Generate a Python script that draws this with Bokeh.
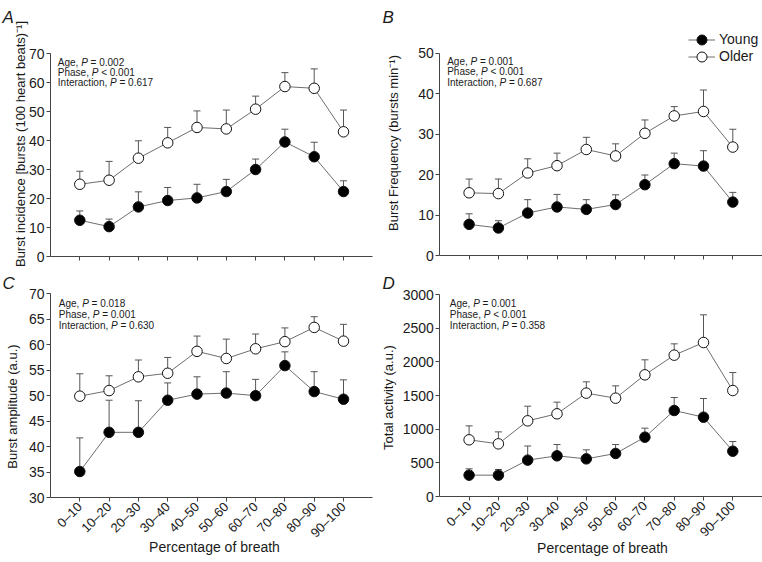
import math
from bokeh.plotting import figure
from bokeh.models import Label, Legend, LegendItem, FixedTicker
from bokeh.layouts import column, row
from bokeh.embed import file_html
from bokeh.resources import INLINE

# ---------------- data ----------------
phases = ["0–10", "10–20", "20–30", "30–40", "40–50", "50–60", "60–70", "70–80", "80–90", "90–100"]
xpos = [1, 2, 3, 4, 5, 6, 7, 8, 9, 10]

# A: burst incidence
a_young = [12.5, 10.3, 17.1, 19.3, 20.2, 22.4, 30.0, 39.5, 34.4, 22.4]
a_young_sem = [3.2, 2.6, 5.2, 4.5, 4.7, 4.2, 3.6, 4.4, 5.0, 3.7]
a_older = [24.9, 26.3, 33.9, 39.2, 44.5, 44.0, 50.8, 58.6, 58.0, 43.0]
a_older_sem = [4.5, 6.5, 6.0, 5.3, 5.7, 6.5, 4.5, 4.8, 6.7, 7.5]

# B: burst frequency
b_young = [7.7, 6.8, 10.5, 12.0, 11.4, 12.6, 17.5, 22.7, 22.1, 13.2]
b_young_sem = [2.6, 1.8, 3.3, 3.1, 2.4, 2.4, 2.4, 2.6, 3.8, 2.4]
b_older = [15.5, 15.3, 20.4, 22.2, 26.2, 24.6, 30.2, 34.5, 35.6, 26.8]
b_older_sem = [3.4, 3.6, 3.5, 3.1, 3.0, 3.0, 3.3, 2.3, 5.3, 4.4]

# C: burst amplitude
c_young = [35.1, 42.8, 42.8, 49.1, 50.3, 50.5, 50.0, 55.9, 50.8, 49.3]
c_young_sem = [6.6, 6.3, 6.2, 3.4, 3.4, 4.2, 3.2, 2.7, 3.9, 3.8]
c_older = [49.9, 51.0, 53.7, 54.4, 58.7, 57.3, 59.2, 60.6, 63.4, 60.7]
c_older_sem = [4.4, 2.9, 3.3, 3.1, 3.0, 3.8, 2.9, 2.7, 2.1, 3.3]

# D: total activity
d_young = [317, 317, 540, 604, 559, 639, 881, 1277, 1178, 673]
d_young_sem = [94, 84, 210, 168, 134, 133, 134, 193, 277, 144]
d_older = [842, 782, 1124, 1228, 1535, 1460, 1807, 2099, 2287, 1574]
d_older_sem = [207, 178, 217, 173, 168, 183, 223, 168, 411, 267]

a_ticks = [0, 10, 20, 30, 40, 50, 60, 70]
b_ticks = [0, 10, 20, 30, 40, 50]
c_ticks = [30, 35, 40, 45, 50, 55, 60, 65, 70]
d_ticks = [0, 500, 1000, 1500, 2000, 2500, 3000]

a_stats = [("Age, ", "P", "= 0.002"), ("Phase, ", "P", "< 0.001"), ("Interaction, ", "P", "= 0.617")]
b_stats = [("Age, ", "P", "= 0.001"), ("Phase, ", "P", "< 0.001"), ("Interaction, ", "P", "= 0.687")]
c_stats = [("Age, ", "P", "= 0.018"), ("Phase, ", "P", "= 0.001"), ("Interaction, ", "P", "= 0.630")]
d_stats = [("Age, ", "P", "= 0.001"), ("Phase, ", "P", "< 0.001"), ("Interaction, ", "P", "= 0.358")]

# ---------------- style ----------------
FONT = "Liberation Sans"
AXIS_COL = "#444444"
LINE_COL = "#6e6e6e"
ERR_COL = "#555555"
TXT = "#1a1a1a"
CAP = 0.12
DX = 29.3  # px per category

AW = {"A": 667, "g": 556, "e": 556, ",": 278, " ": 278, "P": 667, "h": 556, "a": 556, "s": 500,
      "I": 278, "n": 556, "t": 278, "r": 333, "c": 500, "i": 222, "o": 556}


def tw(s, size):
    return sum(AW.get(ch, 556) for ch in s) * size / 1000.0


def make_panel(young, ysem, older, osem, ylim, yticks, box, x0px, ybpx, ytpx, show_x,
               ylabel, ylab_at, letter, letter_at, stats, stats_at, legend_at=None, xlab_at=None):
    L, T, W, H = box
    xs = (L - x0px) / DX
    xe = (L + W - x0px) / DX
    s = (ylim[1] - ylim[0]) / (ybpx - ytpx)
    ys = ylim[0] - (T + H - ybpx) * s
    ye = ylim[1] + (ytpx - T) * s

    p = figure(width=W, height=H, x_range=(xs, xe), y_range=(ys, ye),
               output_backend="svg", toolbar_location=None, title=None, tools="",
               min_border_left=0, min_border_right=0, min_border_top=0, min_border_bottom=0)
    p.outline_line_color = None
    p.xgrid.visible = False
    p.ygrid.visible = False
    p.background_fill_color = None
    p.border_fill_color = None

    def sx(px):
        return px - L

    def sy(py):
        return T + H - py

    xa, ya = p.xaxis[0], p.yaxis[0]
    for ax in (xa, ya):
        ax.axis_line_color = AXIS_COL
        ax.major_tick_line_color = AXIS_COL
        ax.minor_tick_line_color = None
        ax.major_tick_in = 0
        ax.major_tick_out = 4
        ax.major_label_text_font = FONT
        ax.major_label_text_color = TXT
    ya.fixed_location = 0
    ya.bounds = ylim
    ya.ticker = FixedTicker(ticks=yticks)
    ya.major_label_text_font_size = "14px"
    ya.major_label_standoff = 2
    xa.fixed_location = ylim[0]
    xa.bounds = (0, 11)
    xa.ticker = FixedTicker(ticks=xpos)
    xa.major_label_text_font_size = "13px"
    if show_x:
        xa.major_label_overrides = {x: lab for x, lab in zip(xpos, phases)}
        xa.major_label_orientation = math.pi / 4
        xa.major_label_standoff = 3
    else:
        xa.major_label_overrides = {x: "" for x in xpos}

    # error bars (upper only)
    for vals, sem in ((young, ysem), (older, osem)):
        tops = [v + e for v, e in zip(vals, sem)]
        p.segment(x0=xpos, y0=vals, x1=xpos, y1=tops, line_color=ERR_COL, line_width=1)
        p.segment(x0=[x - CAP for x in xpos], y0=tops, x1=[x + CAP for x in xpos], y1=tops,
                  line_color=ERR_COL, line_width=1)

    ly = p.line(xpos, young, line_color=LINE_COL, line_width=1)
    lo = p.line(xpos, older, line_color=LINE_COL, line_width=1)
    sy_r = p.scatter(xpos, young, size=10.5, fill_color="black", line_color="#111111", line_width=1)
    so_r = p.scatter(xpos, older, size=10.5, fill_color="white", line_color="#111111", line_width=1)

    if legend_at is not None:
        gx, rows = legend_at
        for name, rends, cy in (("Young", [ly, sy_r], rows[0]), ("Older", [lo, so_r], rows[1])):
            lg = Legend(items=[LegendItem(label=name, renderers=rends)],
                        location=(sx(gx), sy(cy + 12.5)),
                        glyph_width=27, glyph_height=25, label_height=14, label_standoff=4,
                        padding=0, margin=0, spacing=0, border_line_color=None,
                        background_fill_alpha=0, label_text_font=FONT,
                        label_text_font_size="14px", label_text_color=TXT)
            p.add_layout(lg)

    # y-axis title
    p.add_layout(Label(x=sx(ylab_at[0]), y=sy(ylab_at[1]), x_units="screen", y_units="screen",
                       text=ylabel, angle=math.pi / 2, text_align="center", text_baseline="middle",
                       text_font=FONT, text_font_size="13px", text_color=TXT))
    # panel letter
    p.add_layout(Label(x=sx(letter_at[0]), y=sy(letter_at[1]), x_units="screen", y_units="screen",
                       text=letter, text_align="left", text_baseline="alphabetic",
                       text_font=FONT, text_font_size="17px", text_font_style="italic",
                       text_color=TXT))
    # statistics
    stx, sty, gap = stats_at
    for i, (pre, pit, post) in enumerate(stats):
        yy = sty + i * gap
        xx = stx
        for txt, style in ((pre, "normal"), (pit, "italic"), (post, "normal")):
            p.add_layout(Label(x=sx(xx), y=sy(yy), x_units="screen", y_units="screen", text=txt,
                               text_align="left", text_baseline="middle", text_font=FONT,
                               text_font_size="10px", text_font_style=style, text_color=TXT))
            xx += tw(txt, 10) + (tw(" ", 10) if style == "italic" else 0)
    if xlab_at is not None:
        p.add_layout(Label(x=sx(xlab_at[0]), y=sy(xlab_at[1]), x_units="screen", y_units="screen",
                           text="Percentage of breath", text_align="center", text_baseline="middle",
                           text_font=FONT, text_font_size="14px", text_color=TXT))
    return p


pA = make_panel(a_young, a_young_sem, a_older, a_older_sem, (0, 70), a_ticks,
                (0, 0, 380, 270), 50, 256, 53, False,
                "Burst incidence [bursts (100 heart beats)⁻¹]", (20, 143.5),
                "A", (2, 17), a_stats, (57.3, 61.7, 10.3))
pB = make_panel(b_young, b_young_sem, b_older, b_older_sem, (0, 50), b_ticks,
                (380, 0, 382, 270), 439.3, 255, 52.7, False,
                "Burst Frequency (bursts min⁻¹)", (392.5, 142.5),
                "B", (382, 17), b_stats, (446.7, 61, 10.3),
                legend_at=(688, (39, 56)))
pC = make_panel(c_young, c_young_sem, c_older, c_older_sem, (30, 70), c_ticks,
                (0, 270, 380, 292), 50, 497, 293.3, True,
                "Burst amplitude (a.u.)", (12, 406),
                "C", (2, 283), c_stats, (58.3, 303.3, 10.8), xlab_at=(214, 546))
pD = make_panel(d_young, d_young_sem, d_older, d_older_sem, (0, 3000), d_ticks,
                (380, 270, 382, 292), 439.3, 496, 294, True,
                "Total activity (a.u.)", (388, 397),
                "D", (382, 283), d_stats, (449.3, 303.3, 10.8), xlab_at=(602, 547))

layout = column(row(pA, pB), row(pC, pD))
open("out.html", "w").write(file_html(layout, INLINE))
